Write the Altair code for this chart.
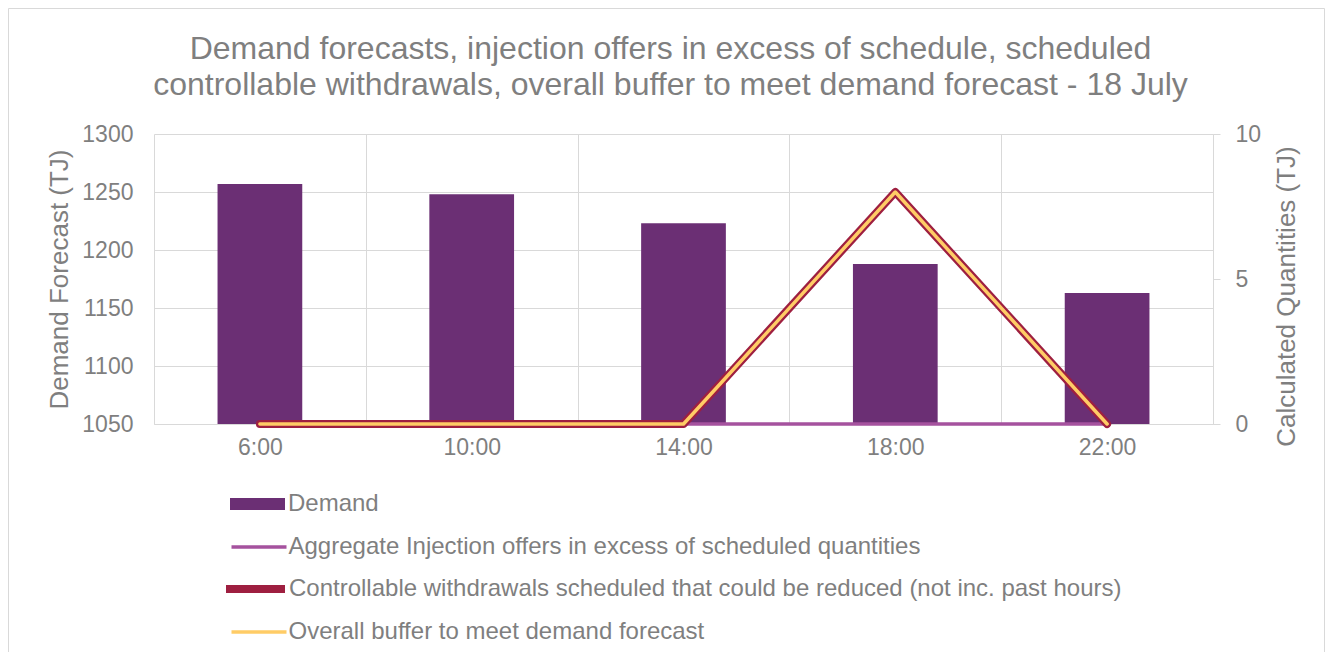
import altair as alt
import pandas as pd

# ---- data ----
hours = ["6:00", "10:00", "14:00", "18:00", "22:00"]
demand = [1257, 1248, 1223, 1188, 1163]
aggregate_offers = [0, 0, 0, 0, 0]
controllable = [0, 0, 0, 8, 0]
overall_buffer = [0, 0, 0, 8, 0]

series_names = [
    "Demand",
    "Aggregate Injection offers in excess of scheduled quantities",
    "Controllable withdrawals scheduled that could be reduced (not inc. past hours)",
    "Overall buffer to meet demand forecast",
]
series_colors = ["#6B2F74", "#A5529E", "#9E1F40", "#FFCC66"]
left_ticks = [1050, 1100, 1150, 1200, 1250, 1300]
right_ticks = [0, 5, 10]
title_lines = [
    "Demand forecasts, injection offers in excess of schedule, scheduled",
    "controllable withdrawals, overall buffer to meet demand forecast - 18 July",
]

# ---- styles ----
FONT = "Liberation Sans"
TEXT = "#7F7F7F"
GRID = "#D9D9D9"
W, H = 1059, 290
PAD = {"left": 146, "top": 126, "right": 112, "bottom": 228}
LEG_X = [76, 75.5, 67, 75.5]
LEG_Y = [358, 401, 443, 486]
LINE_W = [3.5, 8, 3.5]
LEG_SIZE = [3025, 3025, 3481, 3025]
LEG_SYM_OFF = [0, 0, 1, 0]
LEG_LAB_OFF = [3, 0, 0, 0]

bars_df = pd.DataFrame({"hour": hours, "value": demand, "series": series_names[0]})
lines_df = pd.concat(
    [
        pd.DataFrame({"hour": hours, "value": vals, "series": name})
        for name, vals in zip(series_names[1:], [aggregate_offers, controllable, overall_buffer])
    ],
    ignore_index=True,
)


def make_legend(i, symbol_type, stroke_width):
    return alt.Legend(
        title=None,
        orient="none",
        legendX=LEG_X[i],
        legendY=LEG_Y[i],
        direction="vertical",
        symbolType=symbol_type,
        symbolSize=LEG_SIZE[i],
        symbolStrokeWidth=stroke_width,
        symbolOffset=LEG_SYM_OFF[i],
        clipHeight=24,
        labelOffset=LEG_LAB_OFF[i],
        labelFontSize=24,
        labelColor=TEXT,
        labelFont=FONT,
        labelLimit=1000,
        padding=0,
    )


x_enc = alt.X(
    "hour:N",
    sort=hours,
    title=None,
    scale=alt.Scale(paddingInner=0, paddingOuter=0),
    axis=alt.Axis(
        labelFontSize=23,
        labelColor=TEXT,
        labelFont=FONT,
        labelPadding=12,
        labelAngle=0,
        ticks=False,
        tickSize=0,
        domainColor=GRID,
        grid=True,
        gridColor=GRID,
        tickBand="extent",
    ),
)

left_axis = alt.Axis(
    values=left_ticks,
    format="d",
    title="Demand Forecast (TJ)",
    titleFontSize=26,
    titleColor=TEXT,
    titleFont=FONT,
    titleFontWeight="normal",
    titleX=-82,
    titleBaseline="bottom",
    labelFontSize=23,
    labelColor=TEXT,
    labelFont=FONT,
    labelPadding=21,
    ticks=False,
    tickSize=0,
    domain=False,
    grid=True,
    gridColor=GRID,
)

right_axis = alt.Axis(
    orient="right",
    values=right_ticks,
    format="d",
    title="Calculated Quantities (TJ)",
    titleFontSize=26,
    titleColor=TEXT,
    titleFont=FONT,
    titleFontWeight="normal",
    titleAngle=270,
    titleBaseline="top",
    titleX=60,
    titleY=162,
    labelFontSize=23,
    labelColor=TEXT,
    labelFont=FONT,
    labelPadding=15,
    tickSize=7,
    tickColor=GRID,
    domainColor=GRID,
    grid=False,
)

frame = alt.Chart(pd.DataFrame({"frame": [0]})).mark_rect(
    filled=False, stroke=GRID, strokeWidth=1
).encode(
    x=alt.value(-PAD["left"] + 0.5),
    x2=alt.value(W + PAD["right"] - 0.5),
    y=alt.value(-PAD["top"] + 0.5),
    y2=alt.value(H + PAD["bottom"] + 10),
)

bars = alt.Chart(bars_df).mark_bar(width=alt.RelativeBandSize(0.4)).encode(
    x=x_enc,
    y=alt.Y("value:Q", scale=alt.Scale(domain=[1050, 1300], zero=False, nice=False), axis=left_axis),
    y2=alt.datum(1050),
    fill=alt.Fill(
        "series:N",
        scale=alt.Scale(domain=[series_names[0]], range=[series_colors[0]]),
        legend=make_legend(0, "M-1,-0.22L1,-0.22L1,0.22L-1,0.22Z", 0),
    ),
)


def line_layer(i):
    name = series_names[i + 1]
    return (
        alt.Chart(lines_df)
        .transform_filter(alt.datum.series == name)
        .mark_line(strokeWidth=LINE_W[i], strokeCap="round", strokeJoin="round")
        .encode(
            x=x_enc,
            y=alt.Y("value:Q", scale=alt.Scale(domain=[0, 10], nice=False), axis=right_axis),
            stroke=alt.Stroke(
                "series:N",
                scale=alt.Scale(domain=[name], range=[series_colors[i + 1]]),
                legend=make_legend(i + 1, "stroke", LINE_W[i]),
            ),
        )
    )


lines = (
    alt.layer(line_layer(0), line_layer(1), line_layer(2))
    .resolve_scale(stroke="independent")
    .resolve_legend(stroke="independent")
)

chart = (
    alt.layer(frame, bars, lines)
    .resolve_scale(y="independent")
    .properties(
        width=W,
        height=H,
        padding=PAD,
        autosize=alt.AutoSizeParams(type="none"),
        title=alt.Title(
            text=title_lines,
            fontSize=32,
            font=FONT,
            color=TEXT,
            fontWeight="normal",
            lineHeight=36,
            anchor="middle",
            offset=-94,
            dx=-13,
        ),
    )
    .configure_view(strokeWidth=0)
)

chart.save("out.html", embed_options={"renderer": "svg", "actions": False})
